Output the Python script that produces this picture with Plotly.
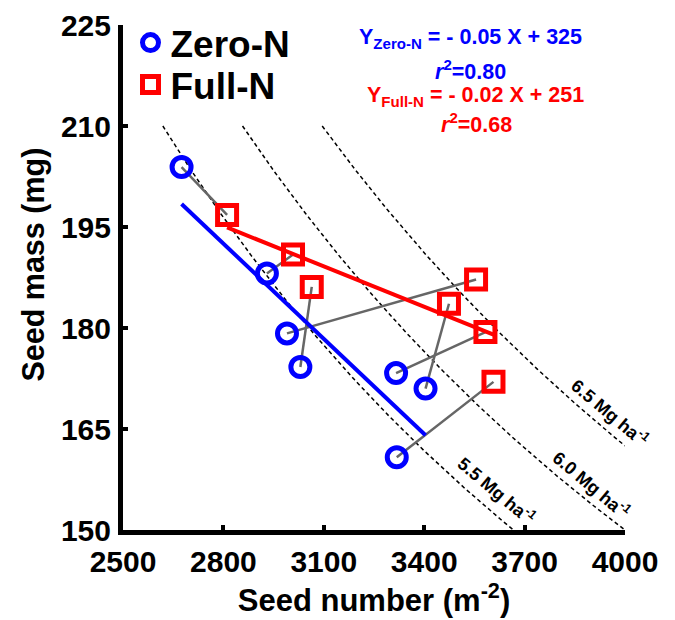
import numpy as np
import plotly.graph_objects as go

# ---- data ----
zero_x = [2675, 2930, 2990, 3030, 3316, 3404, 3318]
zero_y = [203.9, 188.1, 179.2, 174.2, 173.3, 171.0, 160.8]
# Full-N points, ordered so that index i pairs with zero-N point i
full_x = [2811, 3008, 3555, 3064, 3583, 3474, 3607]
full_y = [196.8, 190.9, 187.2, 186.1, 179.4, 183.6, 172.0]

yield_levels = [5.5, 6.0, 6.5]          # Mg ha-1 iso-yield curves
yield_labels = ["5.5 Mg ha<sup>-1</sup>", "6.0 Mg ha<sup>-1</sup>", "6.5 Mg ha<sup>-1</sup>"]
label_pos_x = [3617, 3900, 3955]
label_pos_y = [155.9, 156.8, 167.4]

x_ticks = [2500, 2800, 3100, 3400, 3700, 4000]
y_ticks = [150, 165, 180, 195, 210, 225]
x_range = [2500, 4000]
y_range = [150, 225]
curve_top = 210

eq_zero = "Y<sub>Zero-N</sub> = - 0.05 X + 325"
r2_zero = "<i>r</i><sup>2</sup>=0.80"
eq_full = "Y<sub>Full-N</sub> = - 0.02 X + 251"
r2_full = "<i>r</i><sup>2</sup>=0.68"

FONT = "Liberation Sans"
fig = go.Figure()

# iso-yield curves (seed number x seed mass = constant yield)
for lev in yield_levels:
    k = lev * 1e5
    xs = np.linspace(k / curve_top, min(x_range[1], k / y_range[0]), 200)
    fig.add_trace(go.Scatter(x=xs, y=k / xs, mode="lines", showlegend=False,
                             line=dict(color="black", width=1.5, dash="4px,3px"),
                             hoverinfo="skip"))

# grey pairing lines
gx, gy = [], []
for a, b, c, d in zip(zero_x, zero_y, full_x, full_y):
    gx += [a, c, None]
    gy += [b, d, None]
fig.add_trace(go.Scatter(x=gx, y=gy, mode="lines", showlegend=False,
                         line=dict(color="#666666", width=2.5)))

# regression lines
for xs_, ys_, col in [(zero_x, zero_y, "#0000ff"), (full_x, full_y, "#ff0000")]:
    m, c = np.polyfit(xs_, ys_, 1)
    xx = np.array([min(xs_), max(xs_)])
    fig.add_trace(go.Scatter(x=xx, y=m * xx + c, mode="lines", showlegend=False,
                             line=dict(color=col, width=4)))

# markers
fig.add_trace(go.Scatter(x=zero_x, y=zero_y, mode="markers", name="Zero-N", legend="legend",
                         marker=dict(symbol="circle-open", size=19, color="#0000ff",
                                     line=dict(width=5, color="#0000ff"))))
fig.add_trace(go.Scatter(x=full_x, y=full_y, mode="markers", name="Full-N", legend="legend2",
                         marker=dict(symbol="square-open", size=19, color="#ff0000",
                                     line=dict(width=5, color="#ff0000"))))

ann = []
for t, x, y in zip(yield_labels, label_pos_x, label_pos_y):
    ann.append(dict(text=t, x=x, y=y, xref="x", yref="y", showarrow=False,
                    textangle=40, font=dict(family=FONT, size=18, color="black", weight="bold")))

def px_to_paper(px, py):
    return (px - 122.5) / 502.5, (530 - py) / 505.0

for t, (px, py), col in [(eq_zero, (470, 38), "#0000ff"), (r2_zero, (470, 70), "#0000ff"),
                         (eq_full, (475, 96), "#ff0000"), (r2_full, (476, 123), "#ff0000")]:
    xp, yp = px_to_paper(px, py)
    ann.append(dict(text=t, x=xp, y=yp, xref="paper", yref="paper", showarrow=False,
                    xanchor="center", yanchor="middle",
                    font=dict(family=FONT, size=21.5, color=col, weight="bold")))

# y-axis title placed as rotated text
yt_x, yt_y = px_to_paper(32, 265)
ann.append(dict(text="Seed mass (mg)", x=yt_x, y=yt_y, xref="paper", yref="paper",
                showarrow=False, textangle=-90, xanchor="center", yanchor="middle",
                font=dict(family=FONT, size=30.5, color="black", weight="bold")))

axis_common = dict(showline=True, linewidth=5, linecolor="black", ticks="inside",
                   ticklen=5, tickwidth=4, tickcolor="black", showgrid=False,
                   zeroline=False, mirror=False, automargin=False,
                   tickfont=dict(family=FONT, size=30, color="black", weight="bold"))

lg1_x, lg1_y = px_to_paper(130, 43)
lg2_x, lg2_y = px_to_paper(130, 85)
legend_font = dict(family=FONT, size=37, color="black", weight="bold")

# page body adds an 8 px offset, so the figure is sized/margined to compensate
fig.update_layout(
    width=667, height=612,
    margin=dict(l=114.5, r=50, t=17, b=90, autoexpand=False),
    paper_bgcolor="white", plot_bgcolor="white",
    xaxis=dict(range=x_range, tickvals=x_ticks, ticklabelstandoff=1,
               title=dict(text="Seed number (m<sup>-2</sup>)", standoff=5,
                          font=dict(family=FONT, size=31, color="black", weight="bold")),
               **axis_common),
    yaxis=dict(range=y_range, tickvals=y_ticks, ticklabelstandoff=1, **axis_common),
    legend=dict(x=lg1_x, y=lg1_y, xanchor="left", yanchor="middle", bgcolor="rgba(0,0,0,0)",
                font=legend_font, itemsizing="trace"),
    legend2=dict(x=lg2_x, y=lg2_y, xanchor="left", yanchor="middle", bgcolor="rgba(0,0,0,0)",
                 font=legend_font, itemsizing="trace"),
    annotations=ann,
    showlegend=True,
)

fig.write_html("out.html")
